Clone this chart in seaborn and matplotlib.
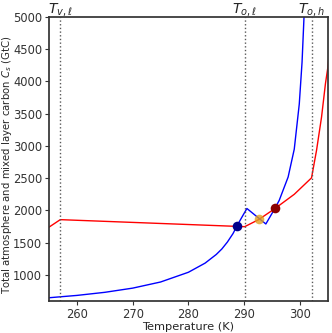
import numpy as np
import pandas as pd
import matplotlib
matplotlib.use("Agg")
import matplotlib.pyplot as plt
import seaborn as sns

# ---- data ----
blue_T = [254.0, 255.0, 260.0, 265.0, 270.0, 275.0, 280.0, 283.0, 285.0, 286.0,
          287.0, 288.0, 288.7, 289.5, 290.5, 293.9, 295.5, 296.3, 297.9, 299.0,
          299.9, 300.4, 300.75, 301.0]
blue_C = [638, 646, 682, 730, 795, 890, 1041, 1183, 1317, 1402,
          1510, 1640, 1757, 1880, 2030, 1790, 2027, 2156, 2518, 2950,
          3650, 4300, 5000, 5500]

red_T = [254.0, 255.0, 257.0, 290.1, 292.6, 295.5, 299.0, 302.1, 303.0, 303.9,
         304.6, 305.0, 305.6]
red_C = [1685, 1742, 1857, 1748, 1857, 2027, 2250, 2505, 2932, 3449,
         3967, 4200, 4700]

# equilibrium points
eq_T = [288.7, 292.6, 295.5]
eq_C = [1760, 1862, 2030]
eq_colors = ["#00008B", "#E0A020", "#8B0000"]
eq_alpha = [1.0, 0.8, 1.0]

# threshold temperatures
thr_T = [257.0, 290.1, 302.1]
thr_labels = [r"$T_{v,\ell}$", r"$T_{o,\ell}$", r"$T_{o,h}$"]

blue_df = pd.DataFrame({"T": blue_T, "C": blue_C})
red_df = pd.DataFrame({"T": red_T, "C": red_C})

sns.set_theme(style="ticks", rc={"axes.edgecolor": "0.2", "xtick.color": "0.2",
                                 "ytick.color": "0.2"})
plt.rcParams["font.family"] = ["DejaVu Sans"]

fig, ax = plt.subplots(figsize=(3.32, 3.33), dpi=100)
fig.subplots_adjust(left=0.148, right=0.987, bottom=0.097, top=0.949)

sns.lineplot(data=red_df, x="T", y="C", color="red", lw=1,
             estimator=None, sort=False, ax=ax)
sns.lineplot(data=blue_df, x="T", y="C", color="blue", lw=1,
             estimator=None, sort=False, ax=ax)

for t, lab in zip(thr_T, thr_labels):
    ax.axvline(t, color="0.35", ls=":", lw=1)
    ax.text(t, 4990, lab, ha="center", va="bottom", fontsize=10)

for t, c, col, a in zip(eq_T, eq_C, eq_colors, eq_alpha):
    ax.scatter([t], [c], s=48, color=col, alpha=a, zorder=5, linewidths=0)

ax.set_xlim(255, 305)
ax.set_ylim(600, 5000)
ax.set_xticks([260, 270, 280, 290, 300])
ax.set_yticks(np.arange(1000, 5001, 500))
ax.tick_params(labelsize=8.3, length=3, width=0.8, pad=2)
ax.set_xlabel("Temperature (K)", fontsize=8.2, labelpad=1)
ax.set_ylabel(r"Total atmosphere and mixed layer carbon $C_s$ (GtC)",
              fontsize=7.3, labelpad=2)
ax.yaxis.set_label_coords(-0.125, 0.48)

fig.savefig("out.png", dpi=100)
